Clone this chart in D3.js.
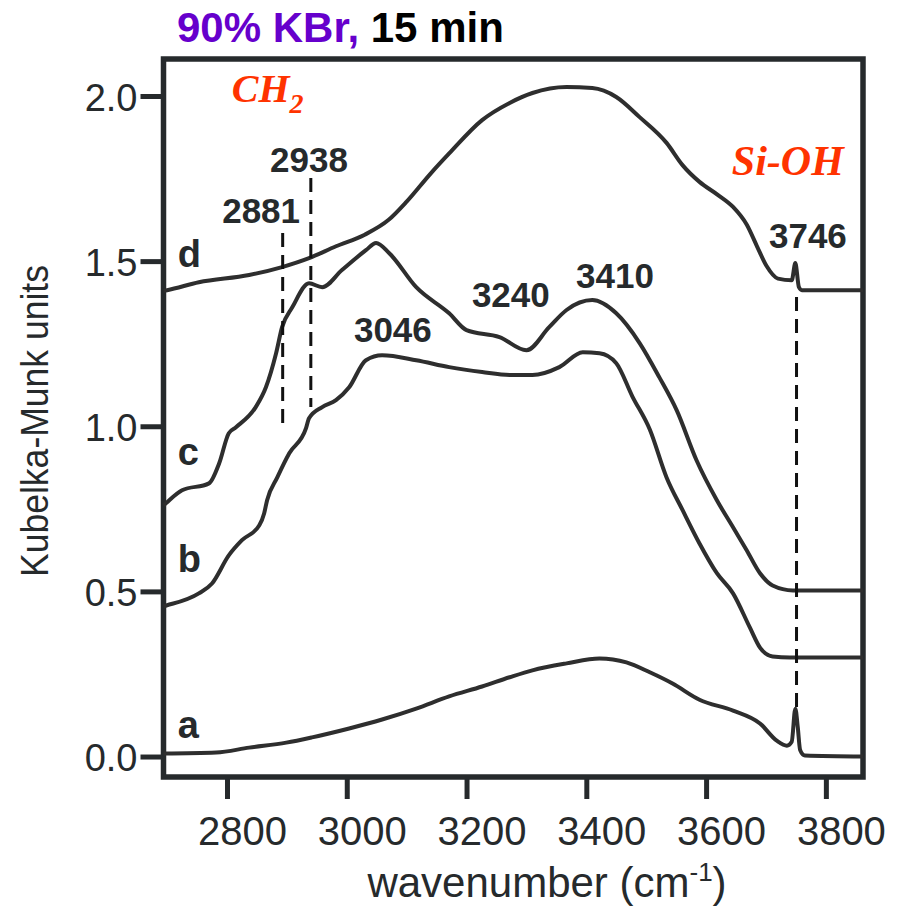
<!DOCTYPE html>
<html>
<head>
<meta charset="utf-8">
<script src="https://cdn.jsdelivr.net/npm/d3@7"></script>
<style>
  body { margin: 0; background: #fff; }
  svg { display: block; }
</style>
</head>
<body>
<svg id="chart" width="897" height="913"></svg>
<script>
// spectra (wavenumber, Kubelka-Munk)
var wnA = [2694, 2782, 2837, 2899, 2942, 3004, 3059, 3116, 3171, 3226, 3272, 3310, 3367, 3422, 3467, 3506, 3544, 3589, 3645, 3690, 3718, 3735, 3743, 3749, 3753, 3757, 3765, 3862];
var kmA = [0.009, 0.012, 0.027, 0.042, 0.058, 0.085, 0.112, 0.145, 0.182, 0.212, 0.240, 0.261, 0.282, 0.297, 0.285, 0.255, 0.221, 0.172, 0.139, 0.100, 0.048, 0.033, 0.045, 0.145, 0.090, 0.020, 0.003, 0.000];

var wnB = [2694, 2700, 2753, 2775, 2803, 2825, 2854, 2862, 2867, 2884, 2904, 2932, 2937, 2959, 2982, 3004, 3032, 3059, 3116, 3171, 3226, 3272, 3310, 3355, 3394, 3422, 3450, 3477, 3506, 3534, 3561, 3589, 3618, 3645, 3673, 3690, 3711, 3740, 3862];
var kmB = [0.455, 0.458, 0.494, 0.524, 0.609, 0.655, 0.700, 0.736, 0.776, 0.845, 0.918, 0.994, 1.024, 1.058, 1.079, 1.118, 1.200, 1.215, 1.200, 1.179, 1.164, 1.155, 1.155, 1.179, 1.224, 1.221, 1.191, 1.090, 0.990, 0.845, 0.745, 0.645, 0.555, 0.494, 0.391, 0.330, 0.303, 0.300, 0.300];

var wnC = [2694, 2700, 2725, 2770, 2787, 2803, 2815, 2848, 2865, 2882, 2892, 2909, 2937, 2959, 2992, 3032, 3049, 3071, 3116, 3171, 3200, 3255, 3300, 3338, 3367, 3410, 3450, 3489, 3522, 3551, 3584, 3618, 3645, 3668, 3690, 3711, 3745, 3862];
var kmC = [0.760, 0.770, 0.806, 0.827, 0.888, 0.979, 0.997, 1.058, 1.118, 1.221, 1.300, 1.360, 1.433, 1.421, 1.473, 1.533, 1.555, 1.524, 1.421, 1.342, 1.291, 1.270, 1.230, 1.300, 1.352, 1.382, 1.342, 1.252, 1.148, 1.048, 0.897, 0.776, 0.694, 0.624, 0.555, 0.518, 0.503, 0.503];

var wnD = [2694, 2700, 2753, 2837, 2892, 2937, 2982, 3030, 3070, 3100, 3140, 3171, 3226, 3272, 3310, 3367, 3410, 3450, 3489, 3534, 3561, 3589, 3620, 3645, 3668, 3685, 3701, 3720, 3743, 3749, 3755, 3760, 3862];
var kmD = [1.410, 1.412, 1.436, 1.458, 1.482, 1.509, 1.545, 1.580, 1.625, 1.680, 1.765, 1.826, 1.927, 1.979, 2.009, 2.027, 2.024, 1.997, 1.936, 1.858, 1.790, 1.740, 1.700, 1.664, 1.610, 1.545, 1.485, 1.447, 1.442, 1.494, 1.421, 1.412, 1.412];

var curveNames = ["a", "b", "c", "d"];
var xTicks = [2800, 3000, 3200, 3400, 3600, 3800];
var yTicks = [0.0, 0.5, 1.0, 1.5, 2.0];

// peak markers
var peakNames = ["2881", "2938", "3046", "3240", "3410", "3746"];
var guideWn = [2893, 2940, 3751];
var guideTop = [1.585, 1.752, 1.391];
var guideBottom = [0.988, 1.058, 0.148];

var svg = d3.select("#chart"),
	margin = { top: 59, right: 34, bottom: 136, left: 163.5 },
	width = 897 - margin.left - margin.right,
	height = 913 - margin.top - margin.bottom,
	g = svg.append("g").attr("transform", "translate(" + margin.left + "," + margin.top + ")");

var ink = "#262a2c";

var x = d3.scaleLinear().domain([2694, 3862]).range([0, width]);
var y = d3.scaleLinear().domain([-0.062, 2.112]).range([height, 0]);

// x axis
var xAxis = g.append("g")
	.attr("transform", "translate(0," + height + ")")
	.call(d3.axisBottom(x).tickValues(xTicks).tickFormat(d3.format("d")).tickSize(22).tickSizeOuter(0).tickPadding(18));
xAxis.select(".domain").remove();
xAxis.selectAll("line").attr("stroke", ink).attr("stroke-width", 5);
xAxis.selectAll("text")
	.attr("fill", ink)
	.attr("dx", 15)
	.style("font-family", "Liberation Sans, Arial, sans-serif")
	.style("font-size", "40px");

// y axis
var yAxis = g.append("g")
	.call(d3.axisLeft(y).tickValues(yTicks).tickFormat(d3.format(".1f")).tickSize(23).tickSizeOuter(0).tickPadding(3));
yAxis.select(".domain").remove();
yAxis.selectAll("line").attr("stroke", ink).attr("stroke-width", 5);
yAxis.selectAll("text")
	.attr("fill", ink)
	.attr("dy", "0.38em")
	.style("font-family", "Liberation Sans, Arial, sans-serif")
	.style("font-size", "38px");

// frame
g.append("rect")
	.attr("x", 0).attr("y", 0)
	.attr("width", width).attr("height", height)
	.attr("fill", "none")
	.attr("stroke", ink)
	.attr("stroke-width", 5.5);

// spectra
var series = [
	{ name: "a", wn: wnA, km: kmA },
	{ name: "b", wn: wnB, km: kmB },
	{ name: "c", wn: wnC, km: kmC },
	{ name: "d", wn: wnD, km: kmD }
];

var line = d3.line()
	.x(function (d) { return x(d[0]); })
	.y(function (d) { return y(d[1]); })
	.curve(d3.curveMonotoneX);

g.selectAll(".spec")
	.data(series)
	.enter().append("path")
	.attr("class", "spec")
	.attr("fill", "none")
	.attr("stroke", "#2e2e2e")
	.attr("stroke-width", 4)
	.attr("stroke-linejoin", "round")
	.attr("d", function (d) {
		return line(d.wn.map(function (w, i) { return [w, d.km[i]]; }));
	});

// dashed guides
g.selectAll(".guide")
	.data(guideWn)
	.enter().append("line")
	.attr("class", "guide")
	.attr("x1", function (d) { return x(d); })
	.attr("x2", function (d) { return x(d); })
	.attr("y1", function (d, i) { return y(guideTop[i]); })
	.attr("y2", function (d, i) { return y(guideBottom[i]); })
	.attr("stroke", "#111")
	.attr("stroke-width", 3)
	.attr("stroke-dasharray", "14,8");

// peak labels
var peakPos = [[2857, 1.615], [2937, 1.770], [3077, 1.255], [3274, 1.361], [3448, 1.418], [3770, 1.539]];
g.selectAll(".peak")
	.data(peakNames)
	.enter().append("text")
	.attr("class", "peak")
	.attr("x", function (d, i) { return x(peakPos[i][0]); })
	.attr("y", function (d, i) { return y(peakPos[i][1]); })
	.attr("text-anchor", "middle")
	.attr("fill", ink)
	.style("font-family", "Liberation Sans, Arial, sans-serif")
	.style("font-weight", "bold")
	.style("font-size", "35px")
	.text(function (d) { return d; });

// curve letters
var letterY = [0.055, 0.558, 0.882, 1.482];
g.selectAll(".letter")
	.data(curveNames)
	.enter().append("text")
	.attr("class", "letter")
	.attr("x", x(2718))
	.attr("y", function (d, i) { return y(letterY[i]); })
	.attr("fill", ink)
	.style("font-family", "Liberation Sans, Arial, sans-serif")
	.style("font-weight", "bold")
	.style("font-size", "38px")
	.text(function (d) { return d; });

// group labels
var ch2 = g.append("text")
	.attr("x", x(2808))
	.attr("y", y(1.982))
	.attr("fill", "#ff3300")
	.style("font-family", "Liberation Serif, Times New Roman, serif")
	.style("font-style", "italic")
	.style("font-weight", "bold")
	.style("font-size", "40px");
ch2.append("tspan").text("CH");
ch2.append("tspan").attr("dy", 11).style("font-size", "28px").text("2");

g.append("text")
	.attr("x", x(3643))
	.attr("y", y(1.761))
	.attr("fill", "#ff3300")
	.style("font-family", "Liberation Serif, Times New Roman, serif")
	.style("font-style", "italic")
	.style("font-weight", "bold")
	.style("font-size", "42px")
	.text("Si-OH");

// title
var title = svg.append("text")
	.attr("x", 177)
	.attr("y", 42)
	.style("font-family", "Liberation Sans, Arial, sans-serif")
	.style("font-weight", "bold")
	.style("font-size", "42px");
title.append("tspan").attr("fill", "#6600cc").text("90% KBr, ");
title.append("tspan").attr("fill", "#000").text("15 min");

// axis titles
svg.append("text")
	.attr("transform", "translate(48,421) rotate(-90)")
	.attr("text-anchor", "middle")
	.attr("fill", ink)
	.style("font-family", "Liberation Sans, Arial, sans-serif")
	.style("font-size", "38px")
	.attr("textLength", 312)
	.attr("lengthAdjust", "spacingAndGlyphs")
	.text("Kubelka-Munk units");

var xt = svg.append("text")
	.attr("x", 547)
	.attr("y", 897)
	.attr("text-anchor", "middle")
	.attr("fill", ink)
	.style("font-family", "Liberation Sans, Arial, sans-serif")
	.style("font-size", "42px");
xt.append("tspan").text("wavenumber (cm");
xt.append("tspan").attr("dy", -16).style("font-size", "26px").text("-1");
xt.append("tspan").attr("dy", 16).text(")");
</script>
</body>
</html>
